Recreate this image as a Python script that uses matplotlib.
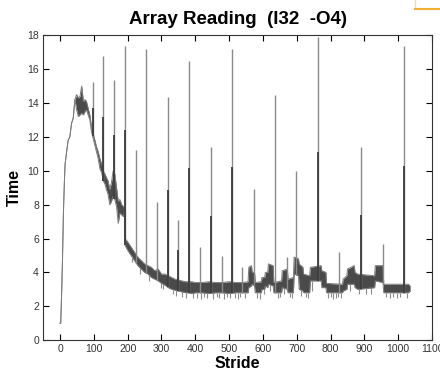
import numpy as np
import matplotlib
matplotlib.use("Agg")
import matplotlib.pyplot as plt
from matplotlib.lines import Line2D

plt.rcParams['font.family'] = ['Liberation Sans', 'DejaVu Sans']

# envelope of the measured curve (stride, low, high)
stride = [0, 2, 5, 7, 10, 13, 15, 20, 24, 29, 34, 39, 44,
          49, 54, 59, 64, 69, 74, 78, 83, 88, 93, 98, 103, 108, 113, 118, 123,
          128, 133, 137, 142, 147, 152, 157, 162, 167, 172, 177, 182, 187, 190, 192,
          200, 210, 220, 230, 240, 250, 260, 270, 280, 290, 300, 310, 320, 330,
          340, 350, 360, 370, 380, 390, 400, 420, 440, 460, 480, 500, 520, 540,
          556, 558, 566, 568, 575, 577, 595, 597, 605, 607, 614, 616, 630, 632,
          655, 657, 672, 674, 690, 692, 705, 707, 718, 720, 738, 740, 772, 774,
          786, 788, 835, 837, 848, 850, 870, 872, 880, 930, 932, 955, 957, 1030, 1035]
time_lo = [1.0, 1.0, 2.95, 4.5, 7.5, 9.4, 10.4, 11.2, 11.8, 12.0, 12.8, 13.1, 14.2,
           13.6, 13.2, 13.3, 13.4, 13.3, 13.5, 13.6, 13.3, 13.0, 12.3, 11.9, 11.5, 11.1, 10.7, 10.1, 9.9,
           9.4, 9.2, 8.9, 8.6, 8.0, 8.2, 8.5, 8.3, 7.9, 6.9, 7.5, 7.4, 7.3, 7.5, 5.6,
           5.3, 5.0, 4.7, 4.4, 4.2, 4.0, 3.9, 3.7, 3.6, 3.5, 3.35, 3.25, 3.1, 3.0,
           2.95, 2.9, 2.85, 2.8, 2.8, 2.75, 2.8, 2.8, 2.75, 2.8, 2.8, 2.75, 2.8, 2.8,
           2.8, 3.1, 3.2, 3.3, 3.2, 2.8, 2.8, 3.0, 3.0, 3.2, 3.1, 3.3, 3.2, 2.8,
           2.8, 3.1, 3.0, 2.8, 2.8, 3.9, 3.8, 3.0, 2.9, 2.8, 2.8, 3.5, 3.5, 3.1,
           3.1, 2.8, 2.8, 2.9, 3.0, 3.3, 3.3, 3.1, 3.0, 3.1, 3.5, 3.4, 2.8, 2.8, 2.9]
time_hi = [1.0, 1.0, 2.95, 4.5, 7.5, 9.4, 10.4, 11.2, 11.8, 12.0, 12.8, 13.1, 14.2,
           14.5, 14.3, 14.4, 15.0, 14.1, 14.2, 14.1, 13.7, 13.3, 12.6, 12.2, 11.8, 11.4, 11.1, 10.7, 10.4,
           10.0, 9.8, 9.6, 9.4, 8.9, 9.3, 10.0, 9.8, 9.0, 8.2, 8.3, 8.0, 7.9, 7.8, 6.0,
           5.8, 5.5, 5.2, 4.9, 4.7, 4.5, 4.4, 4.3, 4.1, 4.2, 3.9, 3.9, 3.8, 3.7,
           3.6, 3.55, 3.5, 3.45, 3.45, 3.45, 3.4, 3.4, 3.45, 3.4, 3.4, 3.45, 3.4, 3.4,
           3.45, 4.3, 4.4, 4.0, 4.0, 3.4, 3.45, 3.7, 3.7, 4.0, 4.0, 4.5, 4.4, 3.4,
           3.5, 4.1, 4.2, 3.6, 3.7, 4.9, 4.8, 4.5, 4.3, 3.9, 3.8, 4.3, 4.4, 4.1,
           4.0, 3.35, 3.3, 3.6, 3.8, 4.2, 4.4, 4.0, 3.9, 3.8, 4.4, 4.4, 3.3, 3.3, 3.2]

# periodic spikes: stride, peak, height of the darker lower part (0 = none)
spike_x = [96, 128, 161, 192, 224, 255, 286, 319, 350, 381, 414, 446, 478,
           509, 539, 573, 636, 670, 699, 763, 825, 890, 954, 1017]
spike_top = [15.25, 16.8, 15.35, 17.35, 11.2, 17.2, 8.17, 14.36, 7.08, 16.5, 5.5, 11.4, 4.96,
             17.2, 4.33, 8.9, 14.5, 4.9, 10.0, 17.9, 5.2, 11.4, 5.67, 17.35]
spike_dark = [13.7, 13.2, 12.1, 12.4, 0, 0, 0, 8.85, 5.3, 10.15, 0, 7.35, 0,
              10.2, 0, 0, 0, 0, 0, 11.1, 0, 7.4, 0, 10.27]

# short downward dips below the noisy band
dip_x = [212, 236, 262, 298, 305, 333, 344, 362, 372, 392, 405, 418, 427, 436,
         452, 463, 471, 486, 494, 503, 517, 526, 533, 548, 583, 590, 602, 622,
         645, 650, 663, 680, 686, 712, 726, 733, 745, 792, 800, 808, 815, 822,
         830, 858, 885, 905, 918, 965, 975, 985, 995, 1005, 1025]
dip_lo = [4.6, 3.9, 3.5, 3.1, 3.0, 2.7, 2.6, 2.55, 2.5, 2.5, 2.5, 2.45, 2.55, 2.5,
          2.45, 2.55, 2.5, 2.45, 2.55, 2.5, 2.5, 2.45, 2.55, 2.5, 2.5, 2.45, 2.7, 2.9,
          2.5, 2.55, 2.7, 2.55, 2.5, 2.6, 2.55, 2.5, 2.9, 2.5, 2.55, 2.45, 2.5, 2.55,
          2.5, 2.9, 2.7, 2.75, 2.7, 2.55, 2.5, 2.55, 2.5, 2.55, 2.5]

fig = plt.figure(figsize=(4.4, 3.75), dpi=100)
ax = fig.add_axes([0.098, 0.093, 0.884, 0.813])

ax.fill_between(stride, time_lo, time_hi, color='#4a4a4a', lw=0)
ax.plot(stride, time_lo, color='#7c7c7c', lw=0.7)
ax.plot(stride, time_hi, color='#7c7c7c', lw=0.7)

dip_base = np.interp(dip_x, stride, time_lo)
ax.vlines(dip_x, dip_lo, dip_base, color='#8c8c8c', lw=0.8)

base = np.interp(spike_x, stride, time_lo)
ax.vlines(spike_x, base, spike_top, color='#8a8a8a', lw=1.0)
dk = [i for i, d in enumerate(spike_dark) if d > 0]
ax.vlines([spike_x[i] for i in dk], [base[i] for i in dk],
          [spike_dark[i] for i in dk], color='#3c3c3c', lw=1.3)

ax.set_xlim(-50, 1100)
ax.set_ylim(0, 18)
ax.set_xticks(np.arange(0, 1101, 100))
ax.set_yticks(np.arange(0, 19, 2))
ax.tick_params(direction='in', top=True, right=True, length=4, width=0.8,
               labelsize=7.5, labelcolor='#333333', pad=3)
for s in ax.spines.values():
    s.set_linewidth(0.8)
    s.set_color('#333333')

ax.set_title('Array Reading  (I32  -O4)', fontsize=13.5, fontweight='bold', pad=8)
ax.set_xlabel('Stride', fontsize=11.5, fontweight='bold', labelpad=1)
ax.set_ylabel('Time', fontsize=11.5, fontweight='bold', labelpad=4)

# small orange frame corner in the top right of the screenshot
fig.add_artist(Line2D([0.943, 0.943], [1.0, 0.978], color='#f5dfa0', lw=1))
fig.add_artist(Line2D([0.943, 1.0], [0.975, 0.975], color='#f0b030', lw=1.5))

fig.savefig('out.png', dpi=100)
